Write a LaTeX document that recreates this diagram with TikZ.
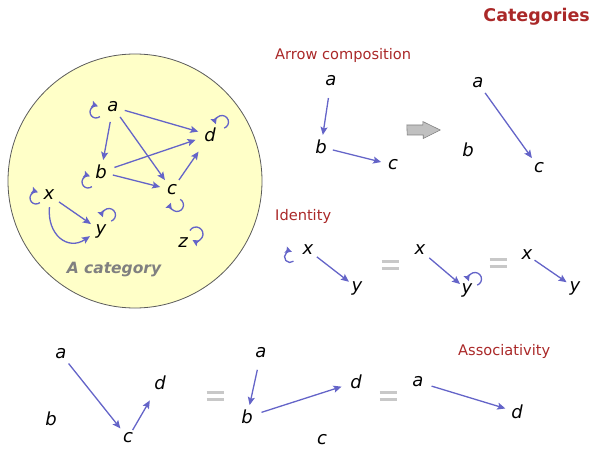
\documentclass[tikz,border=0pt]{standalone}
\usepackage{fontspec}
\setmainfont{DejaVu Sans}
\usetikzlibrary{arrows.meta,calc}

\definecolor{arrowblue}{RGB}{100,100,200}
\definecolor{titlered}{RGB}{170,40,40}
\definecolor{catfill}{RGB}{255,255,200}
\definecolor{catedge}{RGB}{90,90,90}
\definecolor{eqgray}{RGB}{200,200,200}
\definecolor{blockfill}{RGB}{192,192,192}
\definecolor{blockedge}{RGB}{128,128,128}

\tikzset{
  obj/.style={circle, minimum size=24pt, inner sep=0pt, font=\fontsize{18}{18}\selectfont\itshape},
  mor/.style={draw=arrowblue, line width=1.3pt, -{Stealth[length=8pt,width=7pt,inset=1.5pt]}},
  idloop/.style={draw=arrowblue, line width=1.3pt, -{Stealth[length=6.5pt,width=6.5pt,inset=1pt]}},
  heading/.style={text=titlered, inner sep=0pt, font=\fontsize{14.6}{14.6}\selectfont, anchor=base west},
  eqbar/.style={draw=eqgray, line width=3.3pt},
}

\begin{document}
\begin{tikzpicture}[x=1pt,y=1pt]
\useasboundingbox (0,0) rectangle (593,-449);

% ---------- the category ----------
\filldraw[fill=catfill, draw=catedge, line width=0.8pt] (135,-181) circle[radius=127];

\node[obj] (a) at (113,-107) {a};
\node[obj] (b) at (101,-172) {b};
\node[obj] (c) at (172,-190) {c};
\node[obj] (d) at (210,-135) {d};
\node[obj] (x) at (49,-195) {x};
\node[obj] (y) at (101,-231) {y};
\node[obj] (z) at (183,-243) {z};
\node[text=gray, font=\fontsize{15.5}{15.5}\selectfont\bfseries\itshape, anchor=base] (catname) at (114,-273) {A category};

\draw[mor] (a) -- (d);
\draw[mor, shorten <=3pt] (a) -- (b);
\draw[mor] (a) -- (c);
\draw[mor, shorten <=2pt, shorten >=3pt] (b) -- (d);
\draw[mor] (b) -- (c);
\draw[mor, shorten >=8pt] (c) -- (d);
\draw[mor] (x) -- (y);
\draw[mor] (x.272) .. controls (47,-235) and (68,-251) .. (y.205);

% identity loops
\draw[idloop] ($(a)+(-17,-5)$) ++(-50:6) arc[start angle=-50, end angle=-290, radius=6];
\draw[idloop] ($(b)+(-13,-10)$) ++(-50:6) arc[start angle=-50, end angle=-290, radius=6];
\draw[idloop] ($(x)+(-13,-3)$) ++(-50:6) arc[start angle=-50, end angle=-290, radius=6];
\draw[idloop] ($(d)+(12,13)$) ++(-70:6.5) arc[start angle=-70, end angle=200, radius=6.5];
\draw[idloop] ($(y)+(8,16)$) ++(-70:6.5) arc[start angle=-70, end angle=200, radius=6.5];
\draw[idloop] ($(c)+(5,-15)$) ++(60:6.5) arc[start angle=60, end angle=-200, radius=6.5];
\draw[idloop] ($(z)+(13,9)$) ++(150:7) arc[start angle=150, end angle=-120, radius=7];

% ---------- title ----------
\node[text=titlered, inner sep=0pt, font=\fontsize{17.5}{17.5}\selectfont\bfseries, anchor=base east] (title) at (590,-21.5) {Categories};

% ---------- arrow composition ----------
\node[heading] (hcomp) at (275,-60) {Arrow composition};
\node[obj] (ca) at (331,-81) {a};
\node[obj] (cb) at (321,-147) {b};
\node[obj] (cc) at (393,-165) {c};
\draw[mor, shorten <=5pt] (ca) -- (cb);
\draw[mor] (cb) -- (cc);

\node[minimum width=33pt, minimum height=17pt, inner sep=0pt] (block) at (423.5,-130) {};
\filldraw[fill=blockfill, draw=blockedge, line width=0.6pt]
  (block.west) ++(0,5) -- ++(16,0) -- ++(0,3.5) -- (block.east) -- ++(-17,-8.5) -- ++(0,3.5) -- ++(-16,0) -- cycle;

\node[obj] (ra) at (478,-83) {a};
\node[obj] (rb) at (468,-150) {b};
\node[obj] (rc) at (539,-168) {c};
\draw[mor] (ra) -- (rc);

% ---------- identity ----------
\node[heading] (hid) at (275,-220) {Identity};
\node[obj] (ix1) at (308,-250) {x};
\node[obj] (iy1) at (357,-288) {y};
\draw[mor, shorten <=-1pt, shorten >=-2pt] (ix1) -- (iy1);
\draw[idloop] ($(ix1)+(-18,-7)$) ++(-50:5.5) arc[start angle=-50, end angle=-290, radius=5.5];

\node (ieq1) at (390,-265) {};
\draw[eqbar] ($(ieq1)+(-8.5,3.3)$) -- ++(17,0);
\draw[eqbar] ($(ieq1)+(-8.5,-3.3)$) -- ++(17,0);

\node[obj] (ix2) at (420,-250) {x};
\node[obj] (iy2) at (467,-290) {y};
\draw[mor, shorten >=-3pt] (ix2) -- (iy2);
\draw[idloop] ($(iy2)+(8,11)$) ++(-70:6.5) arc[start angle=-70, end angle=200, radius=6.5];

\node (ieq2) at (498,-263) {};
\draw[eqbar] ($(ieq2)+(-8.5,3.3)$) -- ++(17,0);
\draw[eqbar] ($(ieq2)+(-8.5,-3.3)$) -- ++(17,0);

\node[obj] (ix3) at (527,-255) {x};
\node[obj] (iy3) at (575,-288) {y};
\draw[mor, shorten <=-3pt, shorten >=-2pt] (ix3) -- (iy3);

% ---------- associativity ----------
\node[heading] (hassoc) at (458,-355) {Associativity};

\node[obj] (pa) at (61,-354) {a};
\node[obj] (pb) at (51,-419) {b};
\node[obj] (pc) at (128,-438) {c};
\node[obj] (pd) at (160,-383) {d};
\draw[mor] (pa) -- (pc);
\draw[mor, shorten <=-3pt, shorten >=8pt] (pc) -- (pd);

\node (peq1) at (215,-396) {};
\draw[eqbar] ($(peq1)+(-8.5,3.3)$) -- ++(17,0);
\draw[eqbar] ($(peq1)+(-8.5,-3.3)$) -- ++(17,0);

\node[obj] (qa) at (261,-353) {a};
\node[obj] (qb) at (247,-417) {b};
\node[obj] (qc) at (322,-440) {c};
\node[obj] (qd) at (356,-382) {d};
\draw[mor, shorten <=5pt] (qa) -- (qb);
\draw[mor, shorten <=3pt, shorten >=3pt] (qb) -- (qd);

\node (peq2) at (388,-396) {};
\draw[eqbar] ($(peq2)+(-8.5,3.3)$) -- ++(17,0);
\draw[eqbar] ($(peq2)+(-8.5,-3.3)$) -- ++(17,0);

\node[obj] (sa) at (418,-382) {a};
\node[obj] (sd) at (517,-412) {d};
\draw[mor, shorten <=2pt] (sa) -- (sd);
\end{tikzpicture}
\end{document}
